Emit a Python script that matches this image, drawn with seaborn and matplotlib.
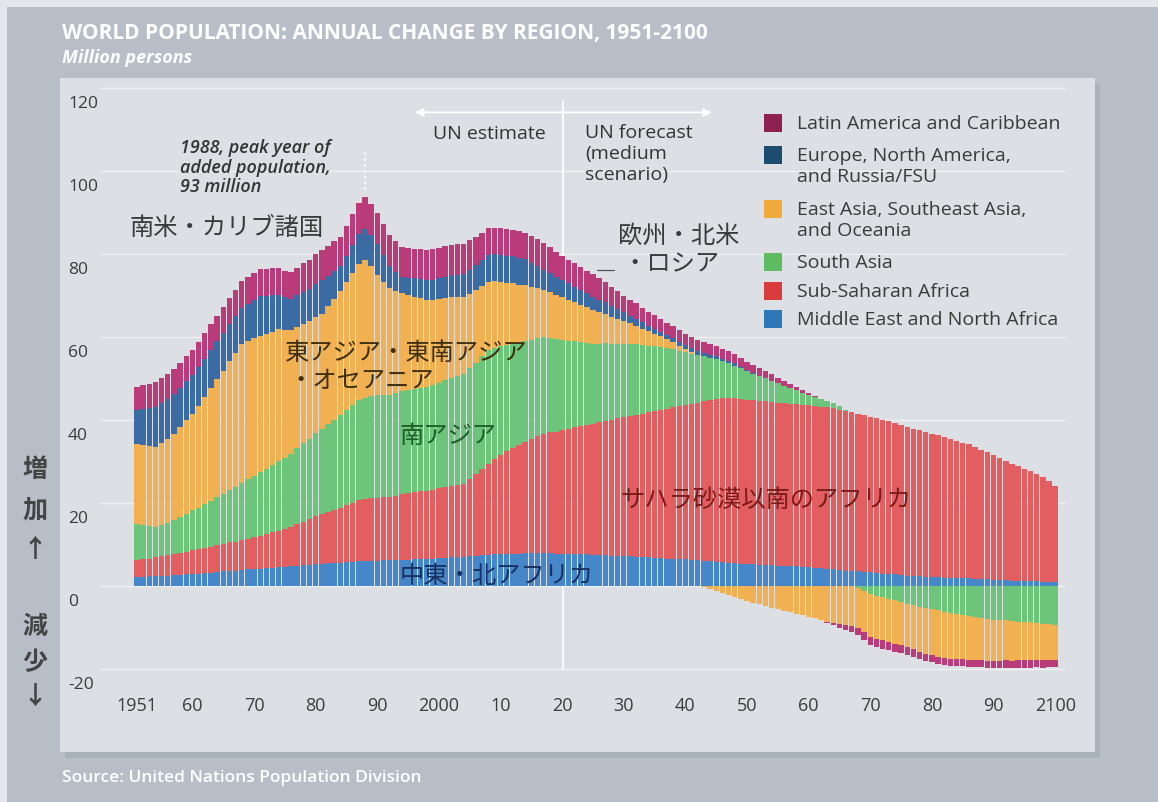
import numpy as np
import matplotlib
matplotlib.use("Agg")
import matplotlib.pyplot as plt
import matplotlib.transforms as mtransforms
from matplotlib.patches import Rectangle
import seaborn as sns

# ---------------- data (million persons, annual change) ----------------
years = list(range(1951, 2101))

mena = [2.2, 2.3, 2.4, 2.5, 2.5, 2.6, 2.7, 2.8, 2.9, 3.0,
        3.1, 3.2, 3.3, 3.5, 3.6, 3.7, 3.8, 3.9, 4.1, 4.2,
        4.3, 4.4, 4.5, 4.6, 4.7, 4.8, 5.0, 5.1, 5.2, 5.4,
        5.5, 5.6, 5.6, 5.7, 5.8, 5.9, 6.0, 6.1, 6.2, 6.2,
        6.3, 6.3, 6.3, 6.4, 6.4, 6.5, 6.5, 6.6, 6.7, 6.8,
        6.9, 7.0, 7.0, 7.1, 7.2, 7.3, 7.5, 7.6, 7.7, 7.8,
        7.8, 7.9, 7.9, 8.0, 8.0, 8.0, 8.0, 8.0, 7.9, 7.9,
        7.8, 7.8, 7.7, 7.7, 7.6, 7.5, 7.5, 7.4, 7.3, 7.2,
        7.2, 7.1, 7.0, 7.0, 6.9, 6.8, 6.7, 6.7, 6.6, 6.5,
        6.4, 6.3, 6.2, 6.1, 5.9, 5.8, 5.7, 5.6, 5.5, 5.4,
        5.3, 5.2, 5.2, 5.1, 5.0, 4.9, 4.8, 4.8, 4.7, 4.6,
        4.5, 4.4, 4.2, 4.1, 3.9, 3.8, 3.7, 3.6, 3.5, 3.4,
        3.3, 3.1, 3.0, 2.9, 2.8, 2.6, 2.5, 2.4, 2.3, 2.3,
        2.2, 2.1, 2.1, 2.0, 1.9, 1.9, 1.8, 1.7, 1.7, 1.6,
        1.5, 1.5, 1.4, 1.4, 1.3, 1.3, 1.2, 1.1, 1.1, 1.0]

ssa = [4.1, 4.2, 4.3, 4.5, 4.7, 4.9, 5.1, 5.3, 5.5, 5.7,
       5.9, 6.1, 6.3, 6.5, 6.7, 6.9, 7.0, 7.2, 7.4, 7.6,
       7.9, 8.2, 8.5, 8.8, 9.1, 9.5, 10.0, 10.5, 11.0, 11.5,
       12.0, 12.4, 12.9, 13.3, 13.8, 14.2, 14.7, 15.0, 15.2, 15.2,
       15.2, 15.2, 15.5, 15.8, 16.0, 16.2, 16.4, 16.5, 16.6, 16.8,
       17.0, 17.2, 17.4, 17.6, 18.6, 19.7, 20.8, 22.0, 23.0, 23.9,
       24.7, 25.5, 26.2, 26.9, 27.5, 28.2, 28.8, 29.1, 29.4, 29.7,
       30.1, 30.5, 30.9, 31.2, 31.6, 32.0, 32.4, 32.8, 33.2, 33.6,
       33.9, 34.3, 34.6, 34.9, 35.3, 35.6, 36.0, 36.4, 36.8, 37.2,
       37.6, 38.0, 38.5, 38.9, 39.3, 39.7, 39.8, 39.8, 39.7, 39.6,
       39.5, 39.5, 39.4, 39.3, 39.3, 39.2, 39.1, 39.1, 39.0, 39.0,
       39.0, 38.9, 38.9, 38.8, 38.7, 38.5, 38.3, 38.0, 37.8, 37.5,
       37.3, 37.0, 36.8, 36.5, 36.2, 35.8, 35.5, 35.2, 34.9, 34.5,
       34.2, 33.9, 33.5, 33.1, 32.7, 32.3, 31.8, 31.2, 30.6, 30.0,
       29.4, 28.8, 28.2, 27.6, 27.0, 26.4, 25.8, 25.2, 24.3, 23.3]

south_asia = [8.8, 8.3, 7.8, 7.3, 7.5, 7.8, 8.2, 8.6, 9.1, 9.6,
              10.0, 10.5, 11.0, 11.5, 12.0, 12.6, 13.2, 13.8, 14.3, 14.8,
              15.3, 15.8, 16.3, 16.8, 17.2, 17.7, 18.3, 18.9, 19.4, 20.0,
              20.5, 21.1, 21.7, 22.3, 22.9, 23.5, 24.1, 24.3, 24.5, 24.6,
              24.6, 24.7, 24.7, 24.8, 24.8, 24.8, 24.9, 24.9, 25.2, 25.5,
              25.8, 26.1, 26.3, 26.5, 26.7, 26.9, 27.1, 27.3, 26.8, 26.2,
              25.6, 25.0, 24.5, 24.2, 23.9, 23.6, 23.3, 22.8, 22.2, 21.7,
              21.2, 20.7, 20.2, 19.8, 19.3, 19.0, 18.7, 18.3, 18.0, 17.7,
              17.3, 16.9, 16.5, 16.1, 15.7, 15.3, 14.7, 14.0, 13.4, 12.7,
              12.1, 11.4, 10.8, 10.1, 9.5, 8.8, 8.3, 7.8, 7.3, 6.8,
              6.4, 5.9, 5.5, 5.0, 4.6, 4.2, 3.8, 3.3, 2.9, 2.5,
              2.2, 1.9, 1.6, 1.2, 0.8, 0.3, 0.0, -0.3, -1.0, -1.8,
              -2.2, -2.6, -3.0, -3.4, -3.8, -4.2, -4.5, -4.9, -5.2, -5.5,
              -5.8, -6.1, -6.4, -6.6, -6.9, -7.2, -7.4, -7.6, -7.8, -8.0,
              -8.1, -8.2, -8.4, -8.5, -8.6, -8.7, -8.8, -9.0, -9.1, -9.2]

east_asia = [19.3, 19.3, 19.3, 19.3, 19.8, 20.3, 20.8, 21.6, 22.5, 23.3,
             24.5, 25.8, 27.1, 28.4, 29.7, 31.0, 32.3, 33.5, 33.4, 33.2,
             32.9, 32.5, 32.1, 31.7, 30.7, 29.7, 29.2, 28.7, 28.3, 28.0,
             27.7, 28.4, 29.1, 29.8, 30.8, 31.9, 32.9, 33.3, 31.2, 29.0,
             27.3, 25.6, 24.6, 23.6, 22.9, 22.3, 21.6, 20.9, 20.5, 20.1,
             19.7, 19.3, 18.9, 18.5, 18.0, 17.5, 17.0, 16.5, 16.0, 15.5,
             15.0, 14.6, 14.1, 13.6, 12.8, 12.0, 11.2, 11.0, 10.7, 10.5,
             10.0, 9.5, 9.0, 8.5, 8.0, 7.5, 7.0, 6.5, 6.0, 5.5,
             5.0, 4.5, 4.0, 3.5, 3.0, 2.6, 2.1, 1.7, 1.2, 0.8,
             0.4, 0.1, -0.2, -0.6, -1.0, -1.5, -2.0, -2.5, -3.0, -3.5,
             -3.9, -4.3, -4.7, -5.1, -5.5, -5.9, -6.2, -6.6, -6.9, -7.3,
             -7.7, -8.1, -8.5, -8.8, -9.0, -9.3, -9.6, -9.8, -10.1, -10.4,
             -10.4, -10.4, -10.4, -10.4, -10.4, -10.5, -10.7, -10.8, -11.0, -11.1,
             -11.2, -11.1, -11.0, -10.8, -10.6, -10.5, -10.4, -10.2, -10.1, -9.9,
             -9.8, -9.6, -9.5, -9.3, -9.2, -9.1, -8.9, -8.8, -8.6, -8.5]

europe_na = [8.0, 8.6, 9.1, 9.6, 9.6, 9.6, 9.5, 9.5, 9.4, 9.4,
             9.3, 9.3, 9.2, 9.1, 9.0, 8.9, 8.8, 8.7, 8.9, 9.2,
             9.5, 9.1, 8.7, 8.3, 7.9, 7.5, 7.6, 7.7, 7.8, 7.9,
             8.0, 7.3, 6.7, 6.0, 6.4, 6.8, 7.2, 7.5, 7.5, 7.5,
             6.5, 5.5, 4.7, 4.0, 4.2, 4.4, 4.6, 4.8, 4.9, 5.1,
             5.2, 5.3, 5.5, 5.6, 5.8, 6.0, 6.2, 6.5, 6.5, 6.5,
             6.5, 6.5, 6.5, 6.1, 5.8, 5.4, 5.0, 4.7, 4.3, 4.0,
             3.9, 3.7, 3.6, 3.4, 3.3, 3.0, 2.8, 2.5, 2.3, 2.0,
             1.8, 1.7, 1.5, 1.3, 1.2, 1.0, 1.0, 1.0, 0.9, 0.9,
             0.9, 0.8, 0.8, 0.7, 0.7, 0.6, 0.5, 0.5, 0.4, 0.3,
             0.3, 0.2, 0.2, 0.1, 0.0, 0.0, 0.0, 0.0, 0.0, 0.0,
             0.0, 0.0, 0.0, 0.0, 0.0, 0.0, 0.0, 0.0, 0.0, 0.0,
             0.0, 0.0, 0.0, 0.0, 0.0, 0.0, 0.0, 0.0, 0.0, 0.0,
             0.0, 0.0, 0.0, 0.0, 0.0, 0.0, 0.0, 0.0, 0.0, 0.0,
             0.0, 0.0, 0.0, 0.0, 0.0, 0.0, 0.0, 0.0, 0.0, 0.0]

latam = [5.6, 5.7, 5.8, 6.0, 6.0, 6.0, 6.0, 6.0, 6.0, 6.0,
         6.1, 6.1, 6.2, 6.2, 6.3, 6.3, 6.4, 6.4, 6.5, 6.5,
         6.5, 6.5, 6.5, 6.5, 6.5, 6.5, 6.7, 6.9, 7.0, 7.2,
         7.3, 7.2, 7.1, 7.0, 7.1, 7.3, 7.4, 7.5, 7.5, 7.5,
         7.5, 7.4, 7.3, 7.2, 7.2, 7.2, 7.3, 7.3, 7.3, 7.3,
         7.3, 7.3, 7.3, 7.3, 7.1, 6.8, 6.6, 6.4, 6.4, 6.4,
         6.4, 6.4, 6.4, 6.4, 6.5, 6.5, 6.5, 6.2, 6.0, 5.7,
         5.7, 5.6, 5.6, 5.5, 5.5, 5.2, 4.9, 4.6, 4.3, 4.0,
         3.8, 3.7, 3.5, 3.3, 3.2, 3.0, 2.9, 2.9, 2.8, 2.8,
         2.7, 2.7, 2.6, 2.5, 2.5, 2.4, 2.3, 2.2, 2.1, 2.0,
         1.9, 1.8, 1.7, 1.6, 1.4, 1.2, 1.0, 0.8, 0.6, 0.4,
         0.2, 0.0, -0.3, -0.6, -1.0, -1.2, -1.4, -1.6, -1.8, -2.0,
         -2.0, -2.0, -1.9, -1.9, -1.8, -1.8, -1.8, -1.7, -1.7, -1.7,
         -1.7, -1.7, -1.7, -1.7, -1.7, -1.7, -1.7, -1.7, -1.7, -1.7,
         -1.8, -1.8, -1.8, -1.8, -1.8, -1.8, -1.8, -1.8, -1.8, -1.8]

# stacking order from the zero line outward
region_names = ["Middle East and North Africa", "Sub-Saharan Africa", "South Asia",
                "East Asia, Southeast Asia,\nand Oceania",
                "Europe, North America,\nand Russia/FSU", "Latin America and Caribbean"]
region_values = [mena, ssa, south_asia, east_asia, europe_na, latam]
bar_colors = ["#4587c9", "#e25e60", "#6dc57b", "#f1b153", "#3a6ca3", "#b93b7a"]
legend_colors = ["#2f78b8", "#d93c3c", "#5dbb60", "#f1a93c", "#1e4c6e", "#8e2152"]

y_ticks = [-20, 0, 20, 40, 60, 80, 100, 120]
x_ticks = [1951, 1960, 1970, 1980, 1990, 2000, 2010, 2020, 2030, 2040,
           2050, 2060, 2070, 2080, 2090, 2100]
x_labels = ["1951", "60", "70", "80", "90", "2000", "10", "20", "30", "40",
            "50", "60", "70", "80", "90", "2100"]

# ---------------- figure ----------------
sns.set_theme(style="white")
plt.rcParams["font.family"] = ["Open Sans", "Noto Sans CJK JP", "DejaVu Sans"]
JP = ["Noto Sans CJK JP", "DejaVu Sans"]

W, H = 1158, 802
fig = plt.figure(figsize=(W / 100, H / 100), dpi=100, facecolor="#e3e6ea")


def P(x, y):
    return x / W, 1 - y / H


def rect_px(x0, y0, x1, y1, color, z):
    fig.patches.append(Rectangle((x0 / W, 1 - y1 / H), (x1 - x0) / W, (y1 - y0) / H,
                                 transform=fig.transFigure, facecolor=color,
                                 edgecolor="none", zorder=z))


rect_px(7, 7, W, H, "#b7bec7", 0)          # grey frame
rect_px(65, 84, 1100, 758, "#a9b1ba", 1)    # panel shadow
rect_px(60, 78, 1095, 752, "#dcdfe4", 2)    # light panel

ax_left, ax_right, ax_top, ax_bot = 100, 1065, 80, 686
ax = fig.add_axes([ax_left / W, 1 - ax_bot / H, (ax_right - ax_left) / W, (ax_bot - ax_top) / H])
ax.set_facecolor("none")
ax.set_zorder(3)

pos_base = np.zeros(len(years))
neg_base = np.zeros(len(years))
for name, vals, col in zip(region_names, region_values, bar_colors):
    v = np.array(vals, dtype=float)
    bottom = np.where(v >= 0, pos_base, neg_base)
    sns.barplot(x=years, y=v, bottom=bottom, color=col, saturation=1,
                native_scale=True, width=0.88, errorbar=None, ax=ax,
                edgecolor="none", linewidth=0, zorder=3)
    pos_base += np.clip(v, 0, None)
    neg_base += np.clip(v, None, 0)

ax.set_xlim(1945.0, 2101.6)
ax.set_ylim(-24, 122)
for s in ax.spines.values():
    s.set_visible(False)
ax.set_xlabel("")
ax.set_ylabel("")
for t in y_ticks:
    ax.axhline(t, color="white", lw=1.0, alpha=0.55, zorder=1)

ax.set_yticks(y_ticks)
ax.set_yticklabels([str(t) for t in y_ticks])
ax.tick_params(axis="y", length=0, pad=23, labelsize=12.5, labelcolor="#3c3c3c")
off = mtransforms.ScaledTranslation(0, -0.14, fig.dpi_scale_trans)
for lab in ax.get_yticklabels():
    lab.set_horizontalalignment("left")
    lab.set_transform(lab.get_transform() + off)

ax.set_xticks(x_ticks)
ax.set_xticklabels(x_labels)
ax.tick_params(axis="x", length=0, pad=8, labelsize=13, labelcolor="#3c3c3c")

# estimate / forecast divider
ax.plot([2020.2, 2020.2], [-20, 117], color="white", lw=1.2, zorder=2)
ax.annotate("", xy=(2044.3, 114.2), xytext=(1996.1, 114.2),
            arrowprops=dict(arrowstyle="<|-|>", color="white", lw=1.3,
                            mutation_scale=12, shrinkA=0, shrinkB=0), zorder=4)
# 1988 peak marker
ax.plot([1988, 1988], [95.5, 105], color="white", lw=1.2, ls=(0, (1.5, 2)), zorder=4)
# pointer for Europe label
ax.plot([2025.6, 2028.4], [76.2, 76.2], color="#555555", lw=0.9, zorder=4)

# ---------------- texts ----------------
fig.text(*P(62, 33), "WORLD POPULATION: ANNUAL CHANGE BY REGION, 1951-2100",
         color="white", fontsize=15, fontweight="bold", va="center", ha="left")
fig.text(*P(62, 58), "Million persons", color="white", fontsize=13,
         fontweight="bold", style="italic", va="center", ha="left")
fig.text(*P(62, 778), "Source: United Nations Population Division", color="white",
         fontsize=12.5, fontweight="semibold", va="center", ha="left")

fig.text(*P(180, 139), "1988, peak year of\nadded population,\n93 million",
         color="#333333", fontsize=13, style="italic", fontweight="semibold",
         va="top", ha="left", linespacing=1.12, zorder=5)
fig.text(*P(433, 134), "UN estimate", color="#333333", fontsize=14,
         va="center", ha="left", zorder=5)
fig.text(*P(585, 124), "UN forecast\n(medium\nscenario)", color="#333333",
         fontsize=14, va="top", ha="left", linespacing=1.22, zorder=5)

jp_labels = [
    (130, 228, "南米・カリブ諸国", "#3a3a3a"),
    (285, 353, "東アジア・東南アジア", "#3d2f10"),
    (288, 381, "・オセアニア", "#3d2f10"),
    (400, 436, "南アジア", "#1e5e2a"),
    (620, 500, "サハラ砂漠以南のアフリカ", "#7a1a1a"),
    (400, 576, "中東・北アフリカ", "#1a3060"),
    (618, 236, "欧州・北米", "#3a3a3a"),
    (622, 264, "・ロシア", "#3a3a3a"),
]
for x, y, s, c in jp_labels:
    fig.text(*P(x, y), s, color=c, fontsize=17.5, family=JP, va="center",
             ha="left", zorder=6)

for y, ch in [(470, "増"), (510, "加"), (550, "↑"), (627, "減"), (663, "少"), (697, "↓")]:
    fig.text(*P(35, y), ch, color="#444444", fontsize=18, family=JP,
             fontweight="bold", va="center", ha="center", zorder=6)

# ---------------- legend ----------------
legend_rows = [(123, 5), (155, 4), (209, 3), (262, 2), (291, 1), (319, 0)]
for yc, idx in legend_rows:
    fig.patches.append(Rectangle(((764) / W, 1 - (yc + 9) / H), 18 / W, 18 / H,
                                 transform=fig.transFigure, facecolor=legend_colors[idx],
                                 edgecolor="none", zorder=5))
    fig.text(*P(797, yc - 8), region_names[idx], color="#3a3a3a", fontsize=14,
             va="top", ha="left", linespacing=1.2, zorder=6)

fig.savefig("out.png", dpi=100, facecolor=fig.get_facecolor())
